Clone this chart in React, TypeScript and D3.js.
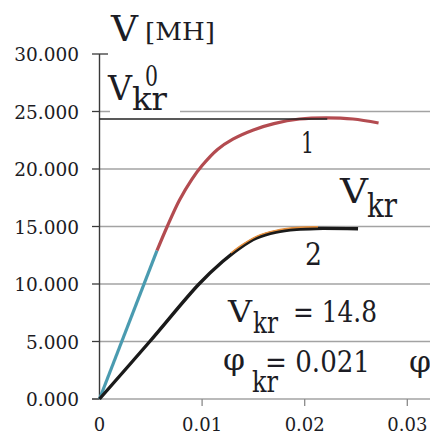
import React, { useEffect, useRef } from 'react';
import * as d3 from 'd3';

// y ticks (V, kN) and x ticks (phi)
const yTicks = [0, 5000, 10000, 15000, 20000, 25000, 30000];
const yTickLabels = ['0.000', '5.000', '10.000', '15.000', '20.000', '25.000', '30.000'];
const xTicks = [0, 0.01, 0.02, 0.03];
const xTickLabels = ['0', '0.01', '0.02', '0.03'];

// curve 1: elastic part (cyan) + rest (red)
const curve1LinPhi = [0, 0.0056];
const curve1LinV = [0, 12900];
const curve1Phi = [0.0056, 0.0066, 0.0078, 0.009, 0.01, 0.0115, 0.013, 0.015, 0.017, 0.0195, 0.0221, 0.0247, 0.0272];
const curve1V = [12900, 15000, 17300, 19100, 20300, 21700, 22600, 23400, 23950, 24350, 24450, 24350, 24000];

// curve 2 (black) with orange overlay on the bend
const curve2Phi = [0, 0.0049, 0.0097, 0.012, 0.0137, 0.0153, 0.0172, 0.0192, 0.0211, 0.0252];
const curve2V = [0, 5000, 10000, 11950, 13150, 14000, 14520, 14760, 14830, 14800];
const orangePhi = [0.0128, 0.0137, 0.0153, 0.0172, 0.0192, 0.0213];
const orangeV = [12550, 13150, 14000, 14520, 14760, 14830];

const vkr0 = 24350;
const vkr0End = 0.0222;

// only serif face that resolves offline
const serif = 'DejaVu Serif';
const ink = '#1c1c24';

const App = () => {
    const svgRef = useRef(null);

    useEffect(() => {
        const svg = d3.select(svgRef.current);
        svg.selectAll('*').remove();

        const x = d3.scaleLinear().domain([0, 0.03]).range([99.5, 407.3]);
        const y = d3.scaleLinear().domain([0, 30000]).range([399, 54]);

        // gridlines
        svg.append('g')
            .selectAll('line')
            .data(yTicks.filter(t => t < 30000))
            .join('line')
            .attr('x1', d => (d === 0 ? 92 : x(0)))
            .attr('x2', 430)
            .attr('y1', d => y(d))
            .attr('y2', d => y(d))
            .attr('stroke', '#a3a3a3')
            .attr('stroke-width', 1.3);

        // y axis
        svg.append('line')
            .attr('x1', x(0)).attr('x2', x(0))
            .attr('y1', y(30000)).attr('y2', y(0))
            .attr('stroke', '#3a3a3a').attr('stroke-width', 1.4);

        svg.append('g')
            .selectAll('line')
            .data(yTicks)
            .join('line')
            .attr('x1', 92)
            .attr('x2', d => (d === 30000 ? 108 : x(0)))
            .attr('y1', d => y(d))
            .attr('y2', d => y(d))
            .attr('stroke', '#3a3a3a')
            .attr('stroke-width', 1.3);

        svg.append('g')
            .selectAll('text')
            .data(yTicks)
            .join('text')
            .attr('x', 79)
            .attr('y', d => y(d) + 7)
            .attr('text-anchor', 'end')
            .attr('font-family', serif)
            .attr('font-size', 18.5)
            .attr('fill', ink)
            .text((d, i) => yTickLabels[i]);

        // x ticks
        svg.append('g')
            .selectAll('line')
            .data(xTicks.slice(1))
            .join('line')
            .attr('x1', d => x(d)).attr('x2', d => x(d))
            .attr('y1', y(0)).attr('y2', y(0) + 7)
            .attr('stroke', '#8a8a8a').attr('stroke-width', 1.3);

        svg.append('g')
            .selectAll('text')
            .data(xTicks)
            .join('text')
            .attr('x', d => x(d))
            .attr('y', 431)
            .attr('text-anchor', 'middle')
            .attr('font-family', serif)
            .attr('font-size', 18)
            .attr('fill', ink)
            .text((d, i) => xTickLabels[i]);

        const line = d3.line().x(d => x(d[0])).y(d => y(d[1])).curve(d3.curveCatmullRom.alpha(0.5));
        const zip = (a, b) => a.map((v, i) => [v, b[i]]);

        // curve 1
        svg.append('path')
            .attr('d', line(zip(curve1Phi, curve1V)))
            .attr('fill', 'none').attr('stroke', '#b34b50').attr('stroke-width', 3.2);
        svg.append('path')
            .attr('d', line(zip(curve1LinPhi, curve1LinV)))
            .attr('fill', 'none').attr('stroke', '#4a9bb0').attr('stroke-width', 3.2);

        // curve 2
        svg.append('path')
            .attr('d', line(zip(curve2Phi, curve2V)))
            .attr('fill', 'none').attr('stroke', '#1a1a1a').attr('stroke-width', 3.4);
        svg.append('path')
            .attr('d', line(zip(orangePhi, orangeV)))
            .attr('transform', 'translate(0,-1.7)')
            .attr('fill', 'none').attr('stroke', '#e8913e').attr('stroke-width', 1.4);

        // V_kr^0 level
        svg.append('line')
            .attr('x1', x(0)).attr('x2', x(vkr0End))
            .attr('y1', y(vkr0)).attr('y2', y(vkr0))
            .attr('stroke', '#222').attr('stroke-width', 1.5);

        // labels: left edge, baseline, font size, ink width (Times-like proportions)
        const txt = (s, px, py, size, w) =>
            svg.append('text')
                .attr('x', px).attr('y', py)
                .attr('font-family', serif)
                .attr('font-size', size)
                .attr('textLength', w)
                .attr('lengthAdjust', 'spacingAndGlyphs')
                .attr('fill', ink)
                .text(s);

        txt('V', 111, 40.5, 36, 27);
        txt('[MH]', 145, 40, 24, 70);

        svg.append('rect')
            .attr('x', 110).attr('y', 58).attr('width', 70).attr('height', 57)
            .attr('fill', '#fff');
        txt('V', 108, 100, 34, 24);
        txt('kr', 132, 110, 31, 35);
        txt('0', 145, 86, 27, 13);

        txt('1', 301, 153, 29, 13);
        txt('V', 340, 203, 34, 28);
        txt('kr', 367, 216.5, 33, 30);
        txt('2', 305, 265, 31, 17);

        txt('V', 228, 322, 30, 24);
        txt('kr', 253, 333, 29, 25);
        txt('= 14.8', 293, 322, 30, 84);

        txt('φ', 223, 370, 30, 22);
        txt('kr', 252, 392, 29, 26);
        txt('= 0.021', 265, 372, 30, 105);

        txt('φ', 409, 372, 30, 22);
    }, []);

    return (
        <svg
            ref={svgRef}
            width={430}
            height={432}
            style={{ position: 'fixed', left: 0, top: 0, background: '#fff' }}
        />
    );
};

export default App;
